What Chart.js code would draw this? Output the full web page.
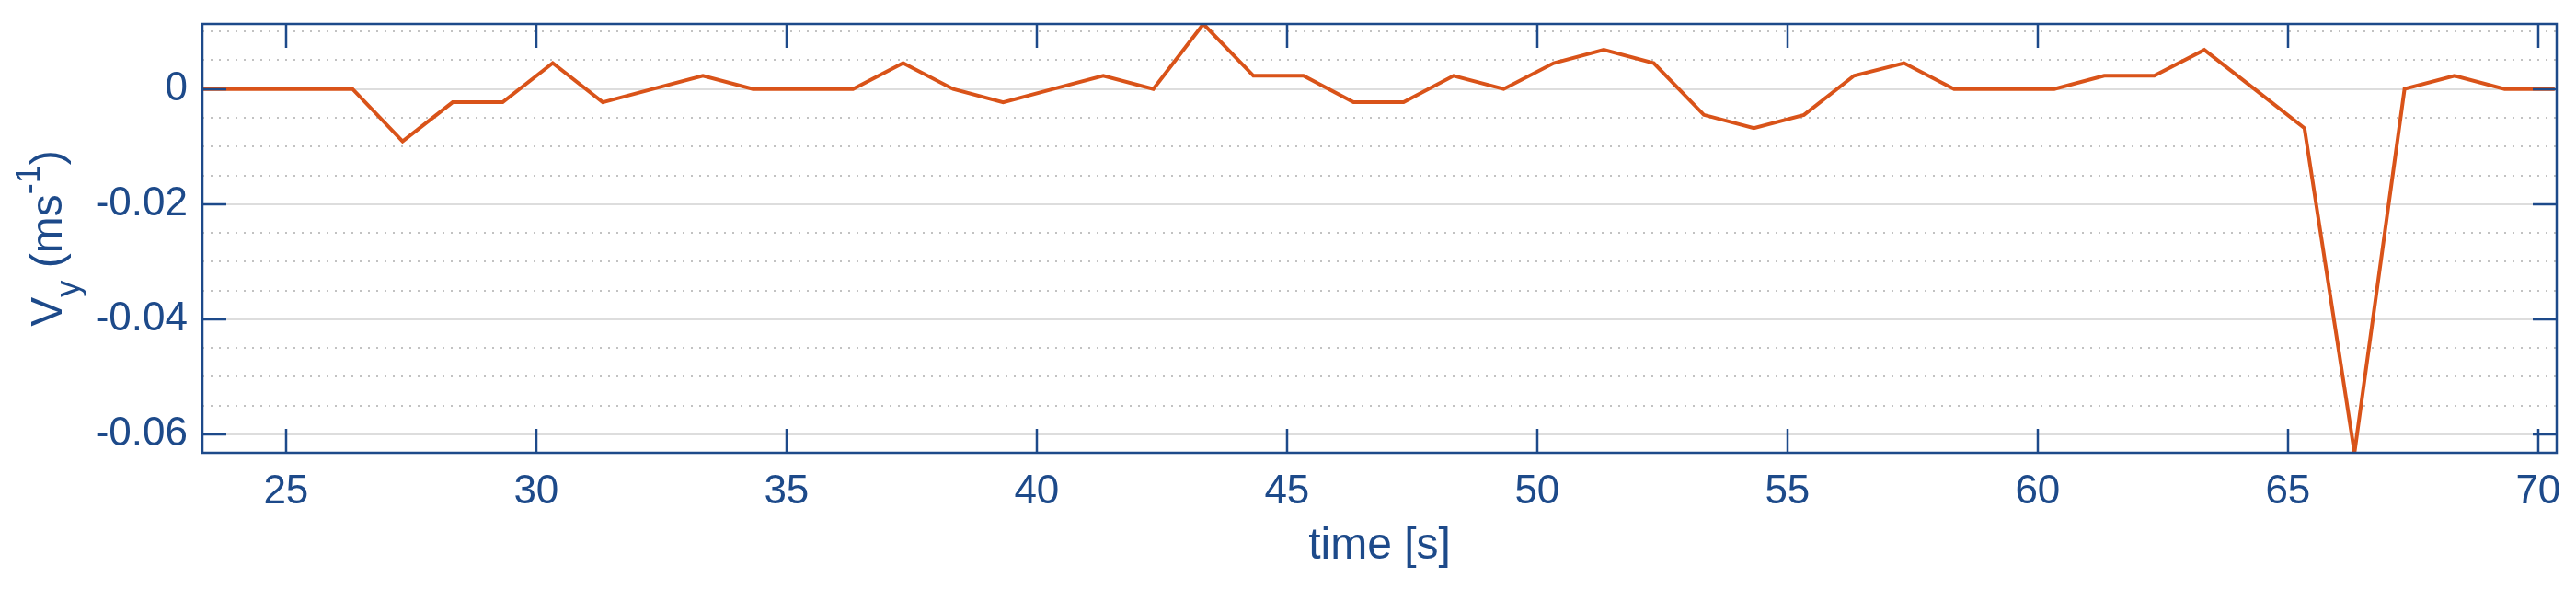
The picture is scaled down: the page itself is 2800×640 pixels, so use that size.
<!DOCTYPE html>
<html>
<head>
<meta charset="utf-8">
<script src="https://cdn.jsdelivr.net/npm/chart.js@4.4.1/dist/chart.umd.min.js"></script>
<style>
  body { margin: 0; background: #fff; }
  #wrap { width: 2800px; height: 640px; }
</style>
</head>
<body>
<div id="wrap"><canvas id="chart" width="2800" height="640"></canvas></div>
<script>
  // sample times [s] and vertical velocity Vy [m/s]
  times = [23.33, 24.33, 25.33, 26.33, 27.33, 28.33, 29.33, 30.33, 31.33, 32.33,
           33.33, 34.33, 35.33, 36.33, 37.33, 38.33, 39.33, 40.33, 41.33, 42.33,
           43.33, 44.33, 45.33, 46.33, 47.33, 48.33, 49.33, 50.33, 51.33, 52.33,
           53.33, 54.33, 55.33, 56.33, 57.33, 58.33, 59.33, 60.33, 61.33, 62.33,
           63.33, 64.33, 65.33, 66.33, 67.33, 68.33, 69.33, 70.33]
  vy = [0, 0, 0, 0, -0.0091, -0.0023, -0.0023, 0.0045, -0.0023, 0,
        0.0023, 0, 0, 0, 0.0045, 0, -0.0023, 0, 0.0023, 0,
        0.0113, 0.0023, 0.0023, -0.0023, -0.0023, 0.0023, 0, 0.0045, 0.0068, 0.0045,
        -0.0045, -0.0068, -0.0045, 0.0023, 0.0045, 0, 0, 0, 0.0023, 0.0023,
        0.0068, 0, -0.0068, -0.0632, 0, 0.0023, 0, 0]

  xTicks = [25, 30, 35, 40, 45, 50, 55, 60, 65, 70]
  yTicks = [-0.06, -0.04, -0.02, 0]
  yTickLabels = ['-0.06', '-0.04', '-0.02', '0']
  yMinor = [-0.055, -0.05, -0.045, -0.035, -0.03, -0.025, -0.015, -0.01, -0.005, 0.005, 0.01]

  const navy = '#1d4a8a';
  const fontFamily = '"Liberation Sans", Arial, Helvetica, sans-serif';

  // grid, box with inward ticks, and the TeX-like y label
  const axesBox = {
    id: 'axesBox',
    beforeDatasetsDraw: (chart) => {
      const { ctx, chartArea: { left, right }, scales: { y } } = chart;
      ctx.save();
      ctx.lineWidth = 2;
      ctx.strokeStyle = '#c2c2c2';
      ctx.setLineDash([2, 7]);
      yMinor.forEach(v => {
        const py = Math.round(y.getPixelForValue(v));
        ctx.beginPath();
        ctx.moveTo(left, py);
        ctx.lineTo(right, py);
        ctx.stroke();
      });
      ctx.setLineDash([]);
      ctx.strokeStyle = '#dddddd';
      yTicks.forEach(v => {
        const py = Math.round(y.getPixelForValue(v));
        ctx.beginPath();
        ctx.moveTo(left, py);
        ctx.lineTo(right, py);
        ctx.stroke();
      });
      ctx.restore();
    },
    afterDraw: (chart) => {
      const { ctx, chartArea: { left, right, top, bottom }, scales: { x, y } } = chart;
      const tick = 26;
      ctx.save();
      ctx.strokeStyle = navy;
      ctx.lineWidth = 2.5;
      ctx.strokeRect(left, top, right - left, bottom - top);
      ctx.beginPath();
      xTicks.forEach(v => {
        const px = Math.round(x.getPixelForValue(v));
        ctx.moveTo(px, bottom);
        ctx.lineTo(px, bottom - tick);
        ctx.moveTo(px, top);
        ctx.lineTo(px, top + tick);
      });
      yTicks.forEach(v => {
        const py = Math.round(y.getPixelForValue(v));
        ctx.moveTo(left, py);
        ctx.lineTo(left + tick, py);
        ctx.moveTo(right, py);
        ctx.lineTo(right - tick, py);
      });
      ctx.stroke();

      // V_y (ms^-1), rotated
      const parts = [
        { t: 'V', size: 48, dy: 0 },
        { t: 'y', size: 36, dy: 19 },
        { t: ' (ms', size: 48, dy: 0 },
        { t: '-1', size: 36, dy: -24 },
        { t: ')', size: 48, dy: 0 }
      ];
      let total = 0;
      parts.forEach(p => {
        ctx.font = p.size + 'px ' + fontFamily;
        p.w = ctx.measureText(p.t).width;
        total += p.w;
      });
      ctx.translate(67, (top + bottom) / 2);
      ctx.rotate(-Math.PI / 2);
      ctx.fillStyle = navy;
      ctx.textBaseline = 'alphabetic';
      let cx = -total / 2;
      parts.forEach(p => {
        ctx.font = p.size + 'px ' + fontFamily;
        ctx.fillText(p.t, cx, p.dy);
        cx += p.w;
      });
      ctx.restore();
    }
  };

  var chart = new Chart('chart', {
    type: 'line',
    data: {
      datasets: [{
        data: times.map((t, i) => ({ x: t, y: vy[i] })),
        borderColor: '#d95319',
        borderWidth: 4,
        pointRadius: 0,
        tension: 0,
        fill: false
      }]
    },
    options: {
      responsive: false,
      animation: false,
      devicePixelRatio: 1,
      layout: { padding: { top: 26, right: 21, left: 0, bottom: 0 } },
      plugins: {
        legend: { display: false },
        tooltip: { enabled: false }
      },
      scales: {
        x: {
          type: 'linear',
          min: 23.33,
          max: 70.37,
          afterFit: (s) => {
            s.height = 148;
            s.paddingLeft = 0;
            s.paddingRight = 0;
          },
          afterBuildTicks: (s) => { s.ticks = xTicks.map(v => ({ value: v })); },
          grid: { display: false, drawTicks: false },
          border: { display: false },
          ticks: {
            autoSkip: false,
            maxRotation: 0,
            padding: 16,
            color: navy,
            font: { family: fontFamily, size: 44 }
          },
          title: {
            display: true,
            text: 'time [s]',
            color: navy,
            font: { family: fontFamily, size: 48 },
            padding: { top: 0, bottom: 17 }
          }
        },
        y: {
          min: -0.0632,
          max: 0.0113,
          afterFit: (s) => {
            s.width = 220;
            s.paddingTop = 0;
            s.paddingBottom = 0;
          },
          afterBuildTicks: (s) => { s.ticks = yTicks.map(v => ({ value: v })); },
          grid: { display: false, drawTicks: false },
          border: { display: false },
          ticks: {
            padding: 16,
            color: navy,
            font: { family: fontFamily, size: 44 },
            callback: (v) => yTickLabels[yTicks.indexOf(v)]
          }
        }
      }
    },
    plugins: [axesBox]
  });
</script>
</body>
</html>
